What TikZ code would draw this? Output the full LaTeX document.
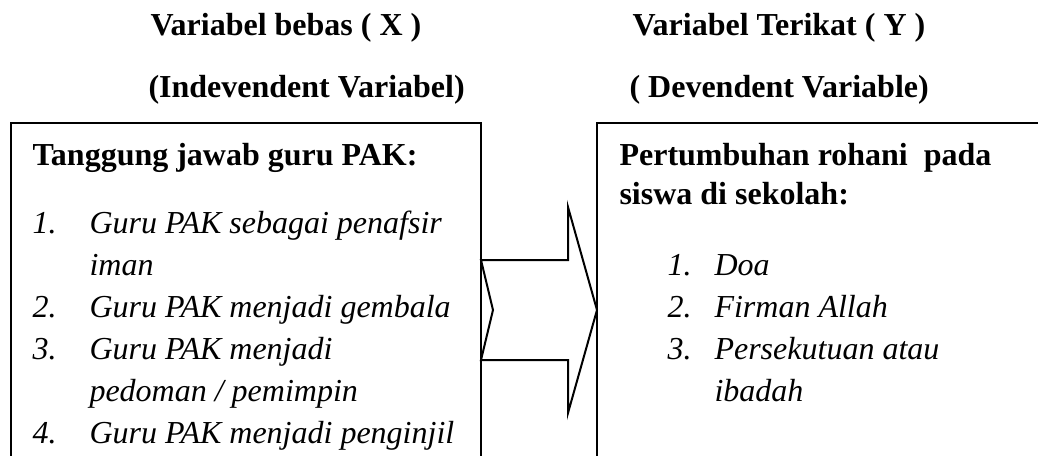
\documentclass[tikz,border=0pt]{standalone}
\usepackage{fontspec}
\setmainfont{Liberation Serif}
\begin{document}
\begin{tikzpicture}[x=0.375pt,y=-0.375pt]
\tikzstyle{every node}=[inner sep=0pt,anchor=base west,font=\fontsize{12}{14}\selectfont]
\tikzstyle{judul}=[font=\fontsize{12}{14}\selectfont\bfseries]
\tikzstyle{butir}=[font=\fontsize{12}{14}\selectfont\itshape]
\tikzstyle{kotak}=[line width=0.75pt]
\tikzstyle{panah}=[line width=0.75pt,line join=miter]

\useasboundingbox (0,0) rectangle (1038,455);
\clip (0,0) rectangle (1038,455);

% judul variabel
\node[judul] (hx) at (150,35) {Variabel bebas ( X )};
\node[judul] (hxi) at (148,97) {(Indevendent Variabel)};
\node[judul] (hy) at (632,35) {Variabel Terikat ( Y )};
\node[judul] (hyd) at (629,97) {( Devendent Variable)};

% kotak X dan Y
\draw[kotak] (11,470) |- (481,123) -- (481,470);
\draw[kotak] (597,470) |- (1060,123);
\coordinate (ekor) at (481,310);
\coordinate (ujung) at (597,310);

% isi kotak X
\node[judul] (tj) at (32,165) {Tanggung jawab guru PAK:};
\node[butir] (n1) at (32,233) {1.};
\node[butir] (x1) at (89,233) {Guru PAK sebagai penafsir};
\node[butir] (x1b) at (89,275) {iman};
\node[butir] (n2) at (32,317) {2.};
\node[butir] (x2) at (89,317) {Guru PAK menjadi gembala};
\node[butir] (n3) at (32,359) {3.};
\node[butir] (x3) at (89,359) {Guru PAK menjadi};
\node[butir] (x3b) at (89,401) {pedoman / pemimpin};
\node[butir] (n4) at (32,443) {4.};
\node[butir] (x4) at (89,443) {Guru PAK menjadi penginjil};

% isi kotak Y
\node[judul] (pr) at (619,165) {Pertumbuhan rohani~ pada};
\node[judul] (pr2) at (619,204) {siswa di sekolah:};
\node[butir] (m1) at (667,275) {1.};
\node[butir] (y1) at (714,275) {Doa};
\node[butir] (m2) at (667,317) {2.};
\node[butir] (y2) at (714,317) {Firman Allah};
\node[butir] (m3) at (667,359) {3.};
\node[butir] (y3) at (714,359) {Persekutuan atau};
\node[butir] (y3b) at (714,401) {ibadah};

% panah X ke Y
\draw[panah] (ekor) ++(0,-50) -- ++(87,0) -- ++(0,-53) -- (ujung)
  -- ++(-29,103) -- ++(0,-53) -- ++(-87,0) -- ++(12,-50) -- cycle;
\end{tikzpicture}
\end{document}
